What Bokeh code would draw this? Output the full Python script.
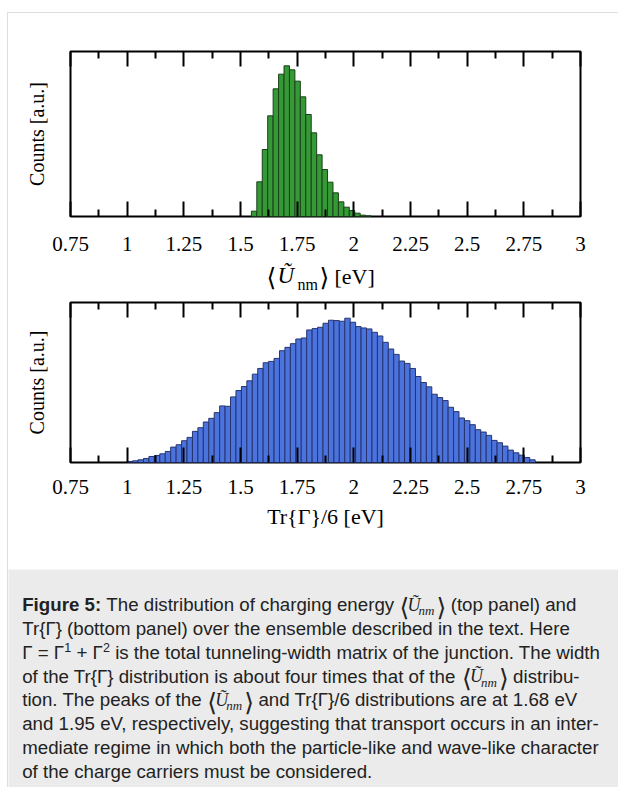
import numpy as np
from bokeh.plotting import figure
from bokeh.models import Range1d, FixedTicker, LinearAxis, Label
from bokeh.layouts import column
from bokeh.embed import file_html
from bokeh.resources import INLINE

# ---------------- data ----------------
top_counts = [16, 104, 201, 302, 383, 427, 452, 440, 406, 359, 306, 251, 185, 141,
              103, 71, 44, 28, 18, 10, 4, 2]
top_first_edge = 1.548
bottom_counts = [3, 5, 8, 12, 18, 21, 26, 33, 46, 53, 65, 75, 93, 104, 121, 132, 149, 169, 168, 196, 215,
                 227, 244, 264, 281, 298, 302, 311, 334, 344, 355, 369, 372, 396, 400, 404, 416, 425,
                 424, 422, 431, 419, 406,
                 402, 399, 389, 378, 359, 339, 323, 303, 296, 281, 257, 239, 226, 204, 194, 185, 165,
                 152, 133, 125, 113, 98,
                 91, 81, 66, 59, 49, 37, 29, 22, 15, 8]
bottom_first_edge = 1.0
bin_width = 0.024
x_ticks = [0.75, 1.0, 1.25, 1.5, 1.75, 2.0, 2.25, 2.5, 2.75, 3.0]
x_tick_labels = ["0.75", "1", "1.25", "1.5", "1.75", "2", "2.25", "2.5", "2.75", "3"]
x_minor_ticks = [0.875, 1.125, 1.375, 1.625, 1.875, 2.125, 2.375, 2.625, 2.875]
top_ymax = 495
bottom_ymax = 478

SERIF = "Liberation Serif"
SANS = "Liberation Sans"
W = 610


def panel(counts, first_edge, fill, edge, ymax, h, mtop, mbot, xlabel, tick_standoff, label_standoff):
    p = figure(width=W, height=h, x_range=Range1d(0.75, 3.0), y_range=Range1d(0, ymax),
               x_axis_type=None, y_axis_type=None, toolbar_location=None, output_backend="svg",
               min_border_left=62, min_border_right=38, min_border_top=mtop, min_border_bottom=mbot,
               background_fill_color="white", border_fill_color="white",
               outline_line_color="black", outline_line_width=2)
    edges = first_edge + bin_width * np.arange(len(counts) + 1)
    p.quad(left=edges[:-1], right=edges[1:], bottom=0, top=counts,
           fill_color=fill, line_color=edge, line_width=1)
    tick_style = dict(axis_line_color=None, major_tick_in=15, major_tick_out=0,
                      minor_tick_in=7, minor_tick_out=0,
                      major_tick_line_width=2, minor_tick_line_width=2,
                      major_tick_line_color="black", minor_tick_line_color="black")
    xb = LinearAxis(ticker=FixedTicker(ticks=x_ticks, minor_ticks=x_minor_ticks),
                    major_label_overrides=dict(zip(x_ticks, x_tick_labels)),
                    major_label_standoff=tick_standoff, major_label_text_font=SERIF,
                    major_label_text_font_size="21px", major_label_text_color="black",
                    axis_label=xlabel, axis_label_text_font=SERIF, axis_label_text_font_size="22px",
                    axis_label_text_font_style="normal", axis_label_text_color="black",
                    axis_label_standoff=label_standoff, **tick_style)
    p.add_layout(xb, "below")
    # mirrored inward ticks on the top edge, labels switched off
    xa = LinearAxis(ticker=FixedTicker(ticks=x_ticks, minor_ticks=x_minor_ticks),
                    major_label_text_color=None, major_label_text_font_size="0px",
                    major_label_standoff=0, **tick_style)
    p.add_layout(xa, "above")
    yl = LinearAxis(ticker=FixedTicker(ticks=[]), axis_line_color=None,
                    major_tick_line_color=None, minor_tick_line_color=None,
                    major_label_text_color=None, major_label_text_font_size="0px",
                    major_label_standoff=0,
                    axis_label="Counts [a.u.]", axis_label_text_font=SERIF,
                    axis_label_text_font_size="20px", axis_label_text_font_style="normal",
                    axis_label_text_color="black", axis_label_standoff=23)
    p.add_layout(yl, "left")
    return p


# page y: top panel 13-258, label strip 258-296, bottom panel 296-569, caption 569-787
p_top = panel(top_counts, top_first_edge, "#359a35", "#1b3f1b", top_ymax, 245, 38, 42, "", 20, 0)
p_bot = panel(bottom_counts, bottom_first_edge, "#4a73de", "#27346e", bottom_ymax, 273, 6, 107,
              "Tr{Γ}/6 [eV]", 17, 7)


def text_strip(y0, y1, bg):
    p = figure(width=W, height=y1 - y0, x_range=Range1d(8, 8 + W), y_range=Range1d(y1, y0),
               x_axis_type=None, y_axis_type=None, toolbar_location=None, output_backend="svg",
               min_border=0, outline_line_color=None, frame_align=False,
               background_fill_color=bg, border_fill_color=bg)
    return p


def put(p, x, y, t, font, size, style="normal", color="black"):
    # y is the wanted baseline (page px); Label's box sits a bit low, so lift it
    p.add_layout(Label(x=x, y=y - 0.34 * size, text=t, text_font=font,
                       text_font_size=f"{size}px", text_font_style=style, text_color=color,
                       text_align="left", text_baseline="alphabetic"))


# x-axis label of the top panel:  <U~_nm> [eV]
p_strip = text_strip(258, 296, "white")
put(p_strip, 266, 285, "\u27e8", "DejaVu Sans", 25)
put(p_strip, 277, 283, "U\u0303", SERIF, 23, "italic")
put(p_strip, 297, 289, "nm", SERIF, 16)
put(p_strip, 319, 285, "\u27e9", "DejaVu Sans", 25)
put(p_strip, 334, 283, "[eV]", SERIF, 22)

# ---------------- caption ----------------
p_cap = text_strip(569, 787, "#ebebeb")

REG = {' ': 278, '!': 278, '(': 333, ')': 333, '+': 584, ',': 278, '-': 333, '.': 278, '/': 278,
       ':': 278, '=': 584, '[': 278, ']': 278, '{': 334, '}': 334, 'Γ': 556}
for c in "0123456789":
    REG[c] = 556
for c, w in zip("ABCDEFGHIJKLMNOPQRSTUVWXYZ",
                [667, 667, 722, 722, 667, 611, 778, 722, 278, 500, 667, 556, 833, 722, 778, 667, 778,
                 722, 667, 611, 722, 667, 944, 667, 667, 611]):
    REG[c] = w
for c, w in zip("abcdefghijklmnopqrstuvwxyz",
                [556, 556, 500, 556, 556, 278, 556, 556, 222, 222, 500, 222, 833, 556, 556, 556, 556,
                 333, 500, 278, 556, 500, 722, 500, 500, 500]):
    REG[c] = w
BOLD = dict(REG)
BOLD.update({'i': 278, 'g': 611, 'u': 611, 'r': 389, ':': 333})

CAP_SIZE = 18.7
SUP_SIZE = 12.5
TXT = "#222222"


def tw(s, size, table=REG):
    return sum(table.get(c, 556) for c in s) * size / 1000.0


caption_lines = [
    [("Figure 5:", "b"), (" The distribution of charging energy ", "r"), ("", "math"),
     (" (top panel) and", "r")],
    [("Tr{Γ} (bottom panel) over the ensemble described in the text. Here", "r")],
    [("Γ = Γ", "r"), ("1", "sup"), (" + Γ", "r"), ("2", "sup"),
     (" is the total tunneling-width matrix of the junction. The width", "r")],
    [("of the Tr{Γ} distribution is about four times that of the ", "r"), ("", "math"),
     (" distribu-", "r")],
    [("tion. The peaks of the ", "r"), ("", "math"),
     (" and Tr{Γ}/6 distributions are at 1.68 eV", "r")],
    [("and 1.95 eV, respectively, suggesting that transport occurs in an inter-", "r")],
    [("mediate regime in which both the particle-like and wave-like character", "r")],
    [("of the charge carriers must be considered.", "r")],
]
X0 = 21.7
BASE0 = 610.7
GAP = 23.76

for i, line in enumerate(caption_lines):
    x = X0
    y = BASE0 + i * GAP
    for t, kind in line:
        if kind == "math":
            put(p_cap, x, y + 5, "\u27e8", "DejaVu Sans", 25, color=TXT)
            put(p_cap, x + 8, y, "U\u0303", SERIF, 18, "italic", TXT)
            put(p_cap, x + 19, y + 4, "nm", SERIF, 13, "italic", TXT)
            put(p_cap, x + 37, y + 5, "\u27e9", "DejaVu Sans", 25, color=TXT)
            x += 46
            continue
        if kind == "sup":
            put(p_cap, x, y - 7, t, SANS, SUP_SIZE, color=TXT)
            x += tw(t, SUP_SIZE)
            continue
        table = BOLD if kind == "b" else REG
        stripped = t.lstrip(" ")
        lead = tw(t[:len(t) - len(stripped)], CAP_SIZE, table)
        put(p_cap, x + lead, y, stripped.rstrip(" "), SANS, CAP_SIZE,
            "bold" if kind == "b" else "normal", TXT)
        x += tw(t, CAP_SIZE, table)

layout = column(p_top, p_strip, p_bot, p_cap,
                styles={"border-left": "1px solid #dedede", "border-top": "1px solid #dedede",
                        "margin-top": "12px", "margin-left": "7px"})

open("out.html", "w").write(file_html(layout, INLINE))
